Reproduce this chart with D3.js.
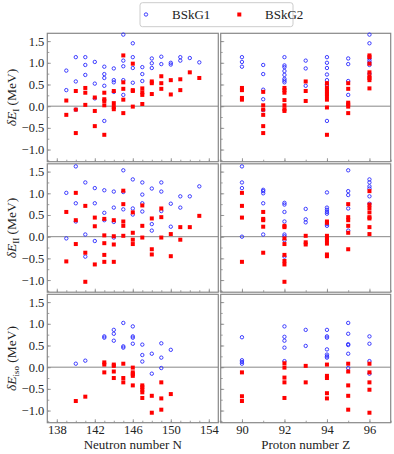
<!DOCTYPE html>
<html>
<head>
<meta charset="utf-8">
<script src="https://cdnjs.cloudflare.com/ajax/libs/d3/7.8.5/d3.min.js"></script>
<style>
  body { margin: 0; background: #fff; }
  svg, svg text { font-family: "Liberation Serif", "DejaVu Serif", serif; }
</style>
</head>
<body>
<div id="chart"></div>
<script>
// values, keyed by N or Z
// panel I
const eI_N_G1 = {139:[0.82,0.37],140:[1.13,0.57,-0.08],141:[1.13,0.95,0.72],142:[1.02,0.52,0.18],
  143:[0.91,0.74,0.65,0.47,-0.34],144:[0.87,0.60,0.55,0.33],145:[1.65,1.05,0.92,0.60,0.26],
  146:[1.45,1.13,0.88,0.54],147:[0.90,0.74,0.58],148:[1.10,0.99,0.88],149:[1.14,0.97],
  150:[1.00,0.96],151:[1.13,1.05],152:[1.11],153:[1.01]};
const eI_N_G2 = {139:[0.13,-0.20],140:[0.35,-0.08,-0.62],141:[0.42,0.31,0.03],142:[0.20,-0.11,-0.46],
  143:[0.31,0.16,0.12,0.02,-0.66],144:[0.35,0.07,-0.02,-0.07],145:[1.17,0.55,0.40,0.15,-0.16],
  146:[0.98,0.37,0.35,-0.01],147:[0.41,0.32,0.26,0.05],148:[0.57,0.53,0.28],149:[0.69,0.53,0.40],
  150:[0.60,0.27],151:[0.62,0.37],152:[0.78],153:[0.65]};
const eI_Z_G1 = {90:[1.13,1.02,0.91],91:[0.95,0.74,0.38,0.16,-0.09],
  92:[1.13,0.94,0.90,0.81,0.72,0.63,0.59,0.55],93:[1.05,0.87,0.47],
  94:[1.13,1.00,0.88,0.73,0.60,0.49,-0.34],95:[1.10,0.97,0.58,0.26],
  96:[1.65,1.45,1.10,1.05,1.00,0.95,0.75]};
const eI_Z_G2 = {90:[0.42,0.37,0.19,0.15],91:[0.33,0.02,-0.08,-0.20,-0.46,-0.62],
  92:[0.42,0.37,0.31,0.14,0.02,-0.07,-0.11],93:[0.57,0.35,0.12],
  94:[0.53,0.43,0.38,0.33,0.28,0.23,0.15,-0.03,-0.66],95:[0.53,0.40,0.08,0.04,-0.01,-0.16],
  96:[1.17,1.13,0.98,0.78,0.69,0.65,0.60,0.41]};

// panel II
const eII_N_G1 = {139:[1.01,-0.04],140:[1.62,0.77,0.35],141:[1.25,0.05,-0.46],142:[1.12,0.77,-0.10],
  143:[1.07,0.55,0.38],144:[1.04,0.67,0.34,-0.02],145:[1.53,1.03,0.63],146:[1.32,0.65,0.51],
  147:[1.25,0.97,0.77,0.58],148:[1.11,0.29,0.14],149:[1.25,1.04,0.59],150:[0.76,0.23],
  151:[0.93,0.67],152:[0.93],153:[1.16]};
const eII_N_G2 = {139:[0.57,-0.57],140:[1.01,0.38,-0.17],141:[0.71,-0.37,-1.04],142:[0.44,0.24,-0.64],
  143:[0.41,0.03,-0.15,-0.42,-0.58],144:[0.38,0.01,-0.18,-0.58],145:[1.06,0.75,0.35,0.25,0.02],
  146:[0.56,0.09,-0.07,-0.17],147:[0.72,0.25,-0.02],148:[0.42,-0.29,-0.41],149:[0.65,0.45,-0.02],
  150:[0.06,-0.45],151:[0.22,-0.07],152:[0.22],153:[0.48]};
const eII_Z_G1 = {90:[1.62,1.25,1.12,0.00],91:[1.08,1.05,1.00,0.77,0.05],
  92:[0.78,0.74,0.57,0.35,0.05,0.01,-0.08,-0.46],93:[0.64,0.40,0.33],
  94:[1.02,0.67,0.62,0.57,0.53,0.29,0.25],95:[1.53,1.05,0.96,0.65,0.14],
  96:[1.32,1.25,1.16,1.11,0.93,0.76]};
const eII_Z_G2 = {90:[1.01,0.71,0.44,-0.58],91:[0.57,0.41,0.38,0.23,-0.37],
  92:[0.25,0.22,-0.04,-0.17,-0.42,-0.56,-0.64,-1.04],93:[0.02,-0.13,-0.18],
  94:[0.35,0.32,0.02,-0.03,-0.08,-0.16,-0.41,-0.45],95:[0.75,0.45,0.38,0.25,0.09,-0.29],
  96:[1.05,0.74,0.66,0.56,0.45,0.42,0.22,0.06]};

// panel iso
const eIso_N_G1 = {140:[0.08],141:[0.15],143:[0.71,0.68],144:[0.86,0.77,0.61],145:[1.02,0.48,0.45],
  146:[0.94,0.71,0.68,0.54],147:[0.52,0.28,0.13],148:[0.31,-0.15],149:[0.55,0.22,-0.02],150:[0.40]};
const eIso_N_G2 = {140:[-0.78],141:[-0.68],143:[0.11,0.06,-0.12],144:[0.06,0.03,-0.10,-0.25],
  145:[0.08,-0.25,-0.35],146:[-0.01,-0.12,-0.16,-0.20,-0.42],147:[-0.42,-0.46,-0.52,-0.58,-0.71],
  148:[-0.66,-1.05],149:[-0.35,-0.72,-0.98],150:[-0.62]};
const eIso_Z_G1 = {90:[0.69,0.16,0.12,0.08],92:[0.94,0.70,0.61,0.45,0.14],93:[0.86,0.49],
  94:[0.86,0.71,0.68,0.41,0.29,0.25,0.22],95:[1.02,0.77,0.53,0.51,0.31,-0.02],96:[0.71,0.54,0.14,-0.15]};
const eIso_Z_G2 = {90:[-0.12,-0.67,-0.78],92:[0.09,-0.01,-0.24,-0.35,-0.71],93:[0.03,-0.35],
  94:[0.06,-0.20,-0.25,-0.60,-0.72],95:[0.08,-0.10,-0.42,-0.66,-0.98],96:[0.08,-0.12,-0.35,-0.52,-1.05]};

const yTicks = [-1.0, -0.5, 0.0, 0.5, 1.0, 1.5];
const nTicks = [138, 142, 146, 150, 154];
const zTicks = [90, 92, 94, 96];
const seriesNames = ["BSkG1", "BSkG2"];

const W = 394, H = 454;
const svg = d3.select("#chart").append("svg").attr("width", W).attr("height", H);

const gray = "#888";
const serif = "'Liberation Serif', 'DejaVu Serif', serif";
const cols = [
  {x0: 47.3, x1: 218.3, dom: [137, 155], major: nTicks, minor: d3.range(137, 156), title: "Neutron number N"},
  {x0: 220.7, x1: 390.7, dom: [89, 97], major: zTicks, minor: d3.range(89, 98), title: "Proton number Z"}
];
const rows = [
  {top: 33.3, sub: "I", sets: [[eI_N_G1, eI_N_G2], [eI_Z_G1, eI_Z_G2]]},
  {top: 163.8, sub: "II", sets: [[eII_N_G1, eII_N_G2], [eII_Z_G1, eII_Z_G2]]},
  {top: 294.3, sub: "iso", sets: [[eIso_N_G1, eIso_N_G2], [eIso_Z_G1, eIso_Z_G2]]}
];
const rowH = 128.4;

function flat(obj) {
  let out = [];
  Object.keys(obj).forEach(k => obj[k].forEach(v => out.push([+k, v])));
  return out;
}
const fmt = d => (d < 0 ? "\u2212" : "") + Math.abs(d).toFixed(1);

rows.forEach((row, ri) => {
  const y = d3.scaleLinear().domain([-1.28, 1.68]).range([row.top + rowH, row.top]);
  cols.forEach((col, ci) => {
    const x = d3.scaleLinear().domain(col.dom).range([col.x0, col.x1]);
    const g = svg.append("g");

    // zero line
    g.append("line")
      .attr("x1", col.x0).attr("x2", col.x1)
      .attr("y1", y(0)).attr("y2", y(0))
      .attr("stroke", gray).attr("stroke-width", 1);

    // ticks, pointing in
    const yMajor = d3.axisLeft(y).tickValues(yTicks).tickSize(-3.5).tickPadding(3)
      .tickFormat(ci == 0 ? fmt : "");
    const yMinor = d3.axisLeft(y).tickValues(d3.range(-1.25, 1.51, 0.25)).tickSize(-2).tickFormat("");
    const xMajor = d3.axisBottom(x).tickValues(col.major).tickSize(-3.5).tickPadding(2.5)
      .tickFormat(ri == 2 ? d3.format("d") : "");
    const xMinor = d3.axisBottom(x).tickValues(col.minor).tickSize(-2).tickFormat("");

    [yMinor, yMajor].forEach(ax => {
      g.append("g").attr("transform", `translate(${col.x0},0)`).call(ax);
    });
    [xMinor, xMajor].forEach(ax => {
      g.append("g").attr("transform", `translate(0,${row.top + rowH})`).call(ax);
    });
    g.selectAll(".domain").remove();
    g.selectAll("g").attr("font-family", null);
    g.selectAll(".tick line").attr("stroke", gray).attr("stroke-width", 0.8);
    g.selectAll(".tick text").style("font-family", serif).style("font-size", "12.5px").attr("fill", "#222");

    // frame
    g.append("rect")
      .attr("x", col.x0).attr("y", row.top)
      .attr("width", col.x1 - col.x0).attr("height", rowH)
      .attr("fill", "none").attr("stroke", gray).attr("stroke-width", 1.2);

    const blue = flat(row.sets[ci][0]);
    const red = flat(row.sets[ci][1]);
    g.selectAll("circle.g1").data(blue).enter().append("circle")
      .attr("cx", d => x(d[0])).attr("cy", d => y(d[1])).attr("r", 1.7)
      .attr("fill", "none").attr("stroke", "#2a2aff").attr("stroke-width", 0.9);
    g.selectAll("rect.g2").data(red).enter().append("rect")
      .attr("x", d => x(d[0]) - 2).attr("y", d => y(d[1]) - 2)
      .attr("width", 4).attr("height", 4).attr("fill", "#ff0000");
  });

  // y title
  const ty = row.top + rowH / 2;
  const t = svg.append("text")
    .attr("transform", `translate(16,${ty}) rotate(-90)`)
    .attr("text-anchor", "middle").style("font-size", "13.5px").attr("fill", "#222");
  t.append("tspan").attr("font-style", "italic").text("\u03b4E");
  t.append("tspan").style("font-size", "9px").attr("dy", 2.5).text(row.sub);
  t.append("tspan").attr("dy", -2.5).text(" (MeV)");
});

// x titles
cols.forEach(col => {
  svg.append("text")
    .attr("x", (col.x0 + col.x1) / 2).attr("y", 448.5)
    .attr("text-anchor", "middle").style("font-size", "13px").attr("fill", "#222")
    .text(col.title);
});

// legend
const leg = svg.append("g");
leg.append("rect").attr("x", 140).attr("y", 2.7).attr("width", 153).attr("height", 24)
  .attr("rx", 2.5).attr("fill", "#fff").attr("stroke", "#ccc").attr("stroke-width", 1);
leg.append("circle").attr("cx", 146).attr("cy", 14.5).attr("r", 1.7)
  .attr("fill", "none").attr("stroke", "#2a2aff").attr("stroke-width", 0.9);
leg.append("rect").attr("x", 237.3).attr("y", 12.5).attr("width", 4).attr("height", 4).attr("fill", "#ff0000");
leg.selectAll("text").data(seriesNames).enter().append("text")
  .attr("x", (d, i) => i == 0 ? 172 : 265).attr("y", 19)
  .style("font-size", "13px").attr("fill", "#222").text(d => d);
</script>
</body>
</html>
